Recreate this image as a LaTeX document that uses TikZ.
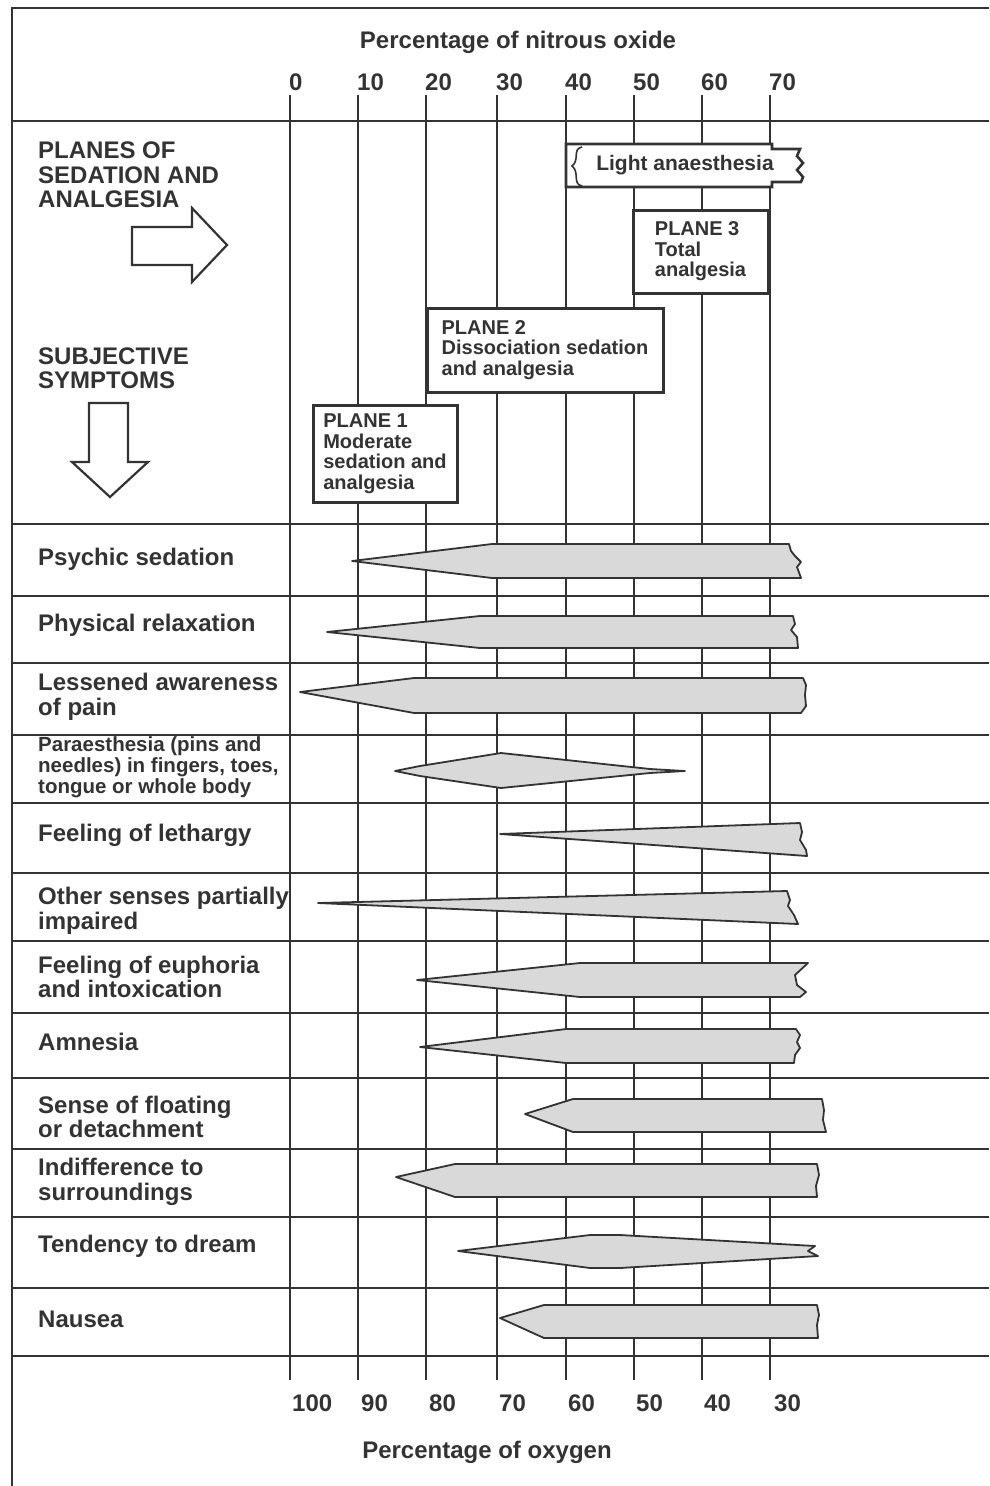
\documentclass[tikz,border=0pt]{standalone}
\usepackage{fontspec}
\setmainfont{Liberation Sans}
\definecolor{ink}{gray}{0.2}
\definecolor{shade}{gray}{0.85}
\newcommand{\labfont}{\fontsize{24}{24.5}\selectfont\bfseries}
\newcommand{\boxfont}{\fontsize{20}{20.5}\selectfont\bfseries}
\newcommand{\parafont}{\fontsize{20.5}{21}\selectfont\bfseries}

\begin{document}
\begin{tikzpicture}[x=1pt,y=-1pt,
   every node/.style={text=ink,inner sep=0pt,font=\labfont},
   grid/.style={draw=ink,line width=2.6pt},
   planebox/.style={draw=ink,fill=white,line width=3pt,align=left,font=\boxfont},
   spindle/.style={draw=ink,fill=shade,line width=1.8pt,line join=round},
   hollow/.style={draw=ink,fill=white,line width=2.2pt}]
   \useasboundingbox (0,0) rectangle (989,1486);

   \draw[grid] (989,8) -- (12,8) -- (12,1486);
   \draw[grid] (12,121) -- (989,121) (12,524) -- (989,524) (12,596) -- (989,596)
      (12,663) -- (989,663) (12,735) -- (989,735) (12,803) -- (989,803)
      (12,873) -- (989,873) (12,941) -- (989,941) (12,1013) -- (989,1013)
      (12,1078) -- (989,1078) (12,1149) -- (989,1149) (12,1217) -- (989,1217)
      (12,1288) -- (989,1288) (12,1356) -- (989,1356);
   \draw[grid] (290,95) -- (290,1380) (358,95) -- (358,1380) (426,95) -- (426,1380)
      (497,95) -- (497,1380) (566,95) -- (566,1380) (634,95) -- (634,1380)
      (702,95) -- (702,1380) (770,95) -- (770,1380);

   \draw (518,42) node (noxtitle) {Percentage of nitrous oxide};
   \draw (289,82) node[anchor=west] (n0) {0};
   \draw (357,82) node[anchor=west] (n10) {10};
   \draw (425,82) node[anchor=west] (n20) {20};
   \draw (496,82) node[anchor=west] (n30) {30};
   \draw (565,82) node[anchor=west] (n40) {40};
   \draw (633,82) node[anchor=west] (n50) {50};
   \draw (701,82) node[anchor=west] (n60) {60};
   \draw (769,82) node[anchor=west] (n70) {70};

   \draw (292,1403) node[anchor=west] (o100) {100};
   \draw (361,1403) node[anchor=west] (o90) {90};
   \draw (429,1403) node[anchor=west] (o80) {80};
   \draw (499,1403) node[anchor=west] (o70) {70};
   \draw (568,1403) node[anchor=west] (o60) {60};
   \draw (636,1403) node[anchor=west] (o50) {50};
   \draw (704,1403) node[anchor=west] (o40) {40};
   \draw (774,1403) node[anchor=west] (o30) {30};
   \draw (487,1452) node (oxtitle) {Percentage of oxygen};

   \draw (38,175) node[anchor=west,align=left] (planes) {PLANES OF\\SEDATION AND\\ANALGESIA};
   \draw[hollow] (132,227) -- (192,227) -- (192,208) -- (227,245) -- (192,282) -- (192,265) -- (132,265) -- cycle;
   \draw (38,368) node[anchor=west,align=left] (subjective) {SUBJECTIVE\\SYMPTOMS};
   \draw[hollow] (89,403) -- (128,403) -- (128,462) -- (148,462) -- (110,497) -- (72,462) -- (89,462) -- cycle;

   \draw[draw=ink,fill=white,line width=2.6pt] (566,144) -- (772,144) -- (772,149) -- (800,149) -- (797,156)
      -- (803,163) -- (797,170) -- (803,177) -- (801,182) -- (772,182) -- (772,187) -- (566,187) -- cycle;
   \draw[ink,line width=1.6pt] (582,147) .. controls (572,149) and (580,160) .. (572,166)
      .. controls (580,172) and (572,184) .. (582,186);
   \draw (685,165) node[font=\fontsize{21}{21}\selectfont\bfseries] (light) {Light anaesthesia};
   \node[planebox,minimum width=135pt,minimum height=83pt] (plane3) at (700.5,251.5) {PLANE 3\\Total\\analgesia};
   \node[planebox,minimum width=236pt,minimum height=84pt] (plane2) at (545,350) {PLANE 2\\Dissociation sedation\\and analgesia};
   \node[planebox,minimum width=144pt,minimum height=97pt] (plane1) at (385,453.5) {PLANE 1\\Moderate\\sedation and\\analgesia};

   \draw[spindle] (352,561) -- (492,544) -- (789,544) -- (791,551) -- (795,556) -- (801,562) -- (797,567) -- (801,578) -- (492,578) -- cycle;
   \draw[spindle] (327,632) -- (480,616) -- (793,616) -- (795,624) -- (791,630) -- (797,637) -- (798,648) -- (480,648) -- cycle;
   \draw[spindle] (300,692) -- (414,678) -- (803,678) -- (806,685) -- (805,695) -- (806,706) -- (801,713) -- (414,713) -- cycle;
   \draw[spindle] (395,771) -- (420,766) -- (501,753) -- (650,769) -- (685,771) -- (650,773) -- (501,788) -- (420,776) -- cycle;
   \draw[spindle] (500,834) -- (800,823) -- (802,832) -- (800,840) -- (806,850) -- (807,856) -- cycle;
   \draw[spindle] (318,903) -- (787,891) -- (790,900) -- (788,906) -- (794,915) -- (798,924) -- cycle;
   \draw[spindle] (417,980) -- (580,963) -- (808,963) -- (795,975) -- (797,985) -- (806,992) -- (800,997) -- (580,997) -- cycle;
   \draw[spindle] (420,1047) -- (566,1029) -- (796,1029) -- (800,1035) -- (797,1042) -- (800,1048) -- (795,1055) -- (794,1063) -- (566,1063) -- cycle;
   \draw[spindle] (525,1114) -- (573,1099) -- (822,1099) -- (824,1110) -- (823,1120) -- (826,1132) -- (573,1132) -- cycle;
   \draw[spindle] (396,1177) -- (455,1164) -- (817,1164) -- (819,1175) -- (816,1186) -- (817,1197) -- (455,1197) -- cycle;
   \draw[spindle] (458,1251) -- (590,1235) -- (620,1235) -- (815,1246) -- (808,1251) -- (818,1256) -- (620,1268) -- (590,1268) -- cycle;
   \draw[spindle] (500,1318) -- (544,1305) -- (817,1305) -- (819,1315) -- (817,1325) -- (818,1338) -- (544,1338) -- cycle;

   \draw (38,559) node[anchor=west] (psychic) {Psychic sedation};
   \draw (38,625) node[anchor=west] (physical) {Physical relaxation};
   \draw (38,697) node[anchor=west,align=left] (awareness) {Lessened awareness\\of pain};
   \draw (38,767) node[anchor=west,align=left,font=\parafont] (paraesthesia) {Paraesthesia (pins and\\needles) in fingers, toes,\\tongue or whole body};
   \draw (38,835) node[anchor=west] (lethargy) {Feeling of lethargy};
   \draw (38,911) node[anchor=west,align=left] (senses) {Other senses partially\\impaired};
   \draw (38,977) node[anchor=west,align=left] (euphoria) {Feeling of euphoria\\and intoxication};
   \draw (38,1042) node[anchor=west] (amnesia) {Amnesia};
   \draw (38,1117) node[anchor=west,align=left] (floating) {Sense of floating\\or detachment};
   \draw (38,1182) node[anchor=west,align=left] (indifference) {Indifference to\\surroundings};
   \draw (38,1246) node[anchor=west] (dream) {Tendency to dream};
   \draw (38,1319) node[anchor=west] (nausea) {Nausea};

\end{tikzpicture}
\end{document}
